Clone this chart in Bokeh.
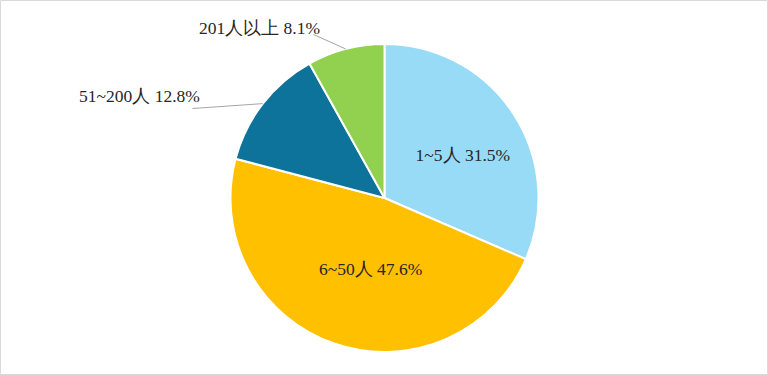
import numpy as np
from bokeh.plotting import figure
from bokeh.models import Range1d, ColumnDataSource
from bokeh.core.properties import value
from bokeh.embed import file_html
from bokeh.resources import INLINE

categories = ["1~5人", "6~50人", "51~200人", "201人以上"]
shares = [31.5, 47.6, 12.8, 8.1]
colors = ["#97DBF7", "#FFC000", "#0E739B", "#92D050"]

W, H = 768, 375
R = 154
p = figure(width=W, height=H, output_backend="svg", toolbar_location=None,
           x_range=Range1d(-384, 384), y_range=Range1d(-177.5, 197.5),
           min_border=0)
p.axis.visible = False
p.grid.visible = False
p.outline_line_color = "#D9D9D9"
p.background_fill_color = "white"

frac = np.array(shares) / sum(shares)
cum = np.concatenate([[0], np.cumsum(frac)])
start = np.pi / 2 - cum[1:] * 2 * np.pi
end = np.pi / 2 - cum[:-1] * 2 * np.pi
mid = (start + end) / 2
src = ColumnDataSource(dict(start=start, end=end, color=colors))
p.wedge(x=0, y=0, radius=R, start_angle="start", end_angle="end",
        fill_color="color", line_color="white", line_width=2, source=src)

labels = [f"{c} {s}%" for c, s in zip(categories, shares)]
font = value("Liberation Serif")

# inside labels (first two slices)
in_r = [0.58, 0.47]
in_dang = [-0.08, 0.14]
for i in range(2):
    a = mid[i] + in_dang[i]
    p.text(x=[R * in_r[i] * np.cos(a)], y=[R * in_r[i] * np.sin(a)], text=[labels[i]],
           text_font=font, text_font_size="17.5px", text_color="#262626",
           text_align="center", text_baseline="middle")

# outside labels with leader lines
out_end = {2: (-192, 89.5), 3: (-71, 163.5)}
out_txt = {2: (-245, 102.5), 3: (-125, 170.5)}
for i in (2, 3):
    ex, ey = R * np.cos(mid[i]), R * np.sin(mid[i])
    lx, ly = out_end[i]
    p.line(x=[ex, lx], y=[ey, ly], line_color="#A6A6A6", line_width=1)
    tx, ty = out_txt[i]
    p.text(x=[tx], y=[ty], text=[labels[i]], text_font=font, text_font_size="17.5px",
           text_color="#262626", text_align="center", text_baseline="middle")

html = file_html(p, INLINE)
html = html.replace("<head>", "<head><style>html,body{margin:0;padding:0;overflow:hidden}</style>", 1)
open("out.html", "w").write(html)
